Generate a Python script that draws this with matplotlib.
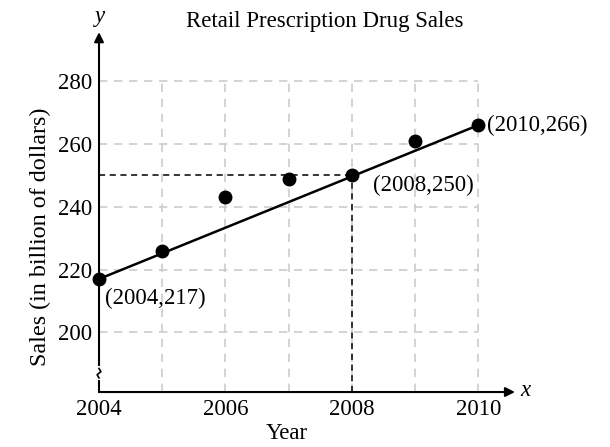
import matplotlib
matplotlib.use("Agg")
import matplotlib.pyplot as plt

years = [2004, 2005, 2006, 2007, 2008, 2009, 2010]
sales = [217, 226, 243, 249, 250, 261, 266]
xtick_labels = [2004, 2006, 2008, 2010]
ytick_labels = [200, 220, 240, 260, 280]
line_x = [2004, 2010]
line_y = [217, 266]
highlight = (2008, 250)

plt.rcParams['font.family'] = ['Liberation Serif', 'DejaVu Serif']
FS = 16.5

fig = plt.figure(figsize=(6.1, 4.47), dpi=100)
ax = fig.add_axes([0.1623, 0.123, 0.682, 0.805])
XMIN, XMAX = 2004, 2010.58
YMIN, YMAX = 181, 295.6
ax.set_xlim(XMIN, XMAX)
ax.set_ylim(YMIN, YMAX)
for s in ax.spines.values():
    s.set_visible(False)

grid_kw = dict(color='#cccccc', lw=1.2, linestyles=(0, (5, 4)), zorder=1)
ax.vlines(years[1:], YMIN, 280, **grid_kw)
ax.hlines(ytick_labels, 2004, 2010, **grid_kw)

# axes with arrows
ax.annotate('', xy=(XMAX, YMIN), xytext=(XMIN, YMIN),
            arrowprops=dict(arrowstyle='-|>', lw=1.5, color='black',
                            mutation_scale=14, shrinkA=0, shrinkB=0),
            annotation_clip=False, zorder=4)
ax.annotate('', xy=(XMIN, YMAX), xytext=(XMIN, YMIN),
            arrowprops=dict(arrowstyle='-|>', lw=1.5, color='black',
                            mutation_scale=14, shrinkA=0, shrinkB=0),
            annotation_clip=False, zorder=4)
# axis break
ax.plot([XMIN, XMIN], [185.5, 188.5], color='white', lw=3, zorder=5, clip_on=False)
ax.plot([XMIN, XMIN - 0.03, XMIN + 0.03, XMIN],
        [185.5, 186.5, 187.5, 188.5], color='black', lw=1.2, zorder=6, clip_on=False)

ax.text(XMIN + 0.02, YMAX + 1.5, 'y', style='italic', fontsize=FS, ha='center', va='bottom')
ax.text(XMAX + 0.08, YMIN + 0.5, 'x', style='italic', fontsize=FS, ha='left', va='center')

ax.set_xticks(xtick_labels)
ax.set_xticklabels([str(v) for v in xtick_labels])
ax.set_yticks(ytick_labels)
ax.set_yticklabels([str(v) for v in ytick_labels])
ax.tick_params(length=0, labelsize=FS, pad=5)

# highlight dashed lines
hx, hy = highlight
ax.plot([XMIN, hx], [hy, hy], color='black', lw=1.1, ls=(0, (4, 3)), zorder=2)
ax.plot([hx, hx], [YMIN, hy], color='black', lw=1.1, ls=(0, (4, 3)), zorder=2)

ax.plot(line_x, line_y, color='black', lw=1.8, zorder=3)
ax.plot(years, sales, 'o', color='black', ms=9, zorder=7, clip_on=False)

ax.annotate('(2004,217)', (2004, 217), xytext=(4, -14), textcoords='offset points',
            fontsize=FS, ha='left', va='center')
ax.annotate('(2008,250)', (2008, 250), xytext=(15, -7), textcoords='offset points',
            fontsize=FS, ha='left', va='center')
ax.annotate('(2010,266)', (2010, 266), xytext=(6, 0), textcoords='offset points',
            fontsize=FS, ha='left', va='center')

ax.set_title('Retail Prescription Drug Sales', fontsize=FS, pad=-6, x=0.543)
ax.set_xlabel('Year', fontsize=FS, labelpad=2, x=0.452)
ax.set_ylabel('Sales (in billion of dollars)', fontsize=17.4, labelpad=5, y=0.43)

fig.savefig('out.png', dpi=100)
